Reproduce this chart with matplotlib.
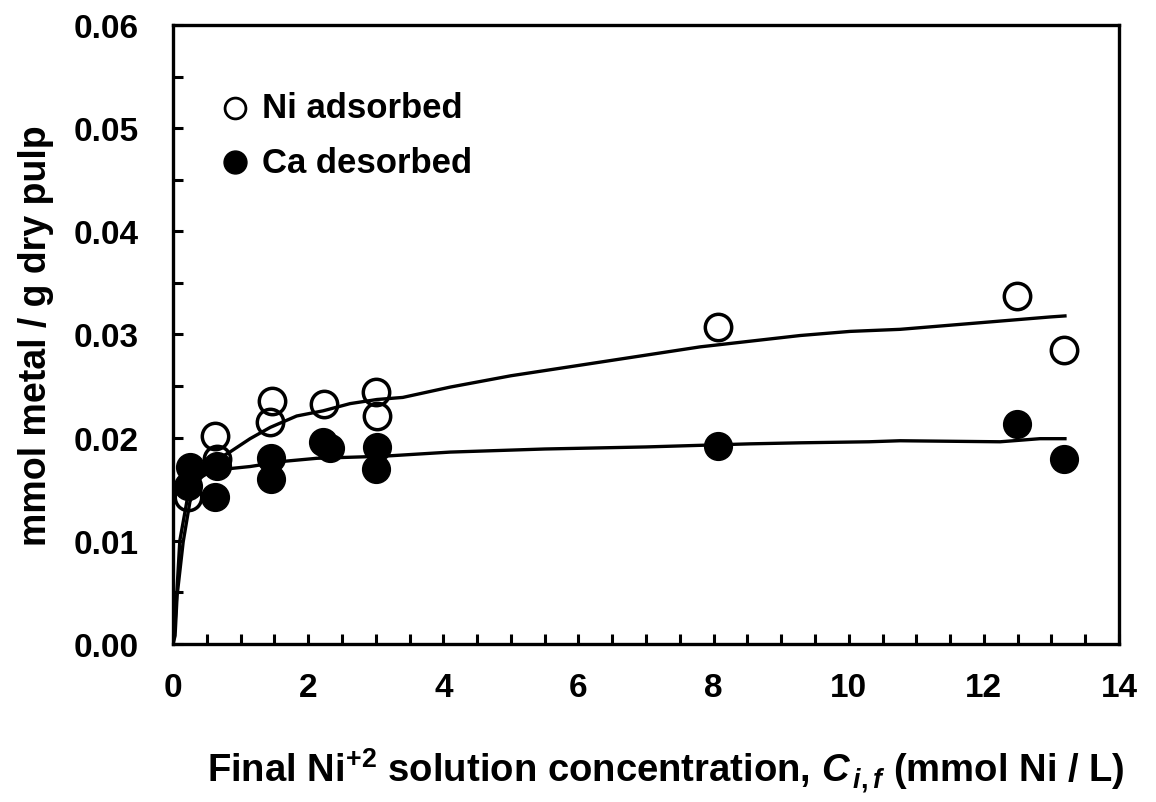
import matplotlib
matplotlib.use("Agg")
from matplotlib import pyplot as plt
from matplotlib.ticker import MultipleLocator, FormatStrFormatter

plt.rcParams['font.family'] = ['Liberation Sans', 'DejaVu Sans']
plt.rcParams['font.weight'] = 'bold'
plt.rcParams['mathtext.fontset'] = 'custom'
plt.rcParams['mathtext.rm'] = 'Liberation Sans:bold'
plt.rcParams['mathtext.it'] = 'Liberation Sans:italic:bold'
plt.rcParams['mathtext.bf'] = 'Liberation Sans:bold'

# Measured points
ni_conc = [0.22, 0.62, 0.65, 1.47, 1.44, 2.24, 3.00, 3.02, 8.07, 12.49, 13.18]
ni_ads = [0.0142, 0.0202, 0.0179, 0.0236, 0.0215, 0.0233, 0.0244, 0.0221, 0.0307, 0.0337, 0.0285]

ca_conc = [0.25, 0.22, 0.62, 0.65, 1.45, 1.45, 2.22, 2.32, 3.02, 3.00, 8.07, 12.49, 13.19]
ca_des = [0.0172, 0.0153, 0.0142, 0.0173, 0.0180, 0.0160, 0.0196, 0.0190, 0.0191, 0.0170, 0.0192, 0.0213, 0.0179]

# Model curves
ni_fit_x = [0.0, 0.03, 0.06, 0.15, 0.25, 0.4, 0.6, 0.84, 1.14, 1.44, 1.83, 2.22, 2.62, 3.02,
            3.4, 4.1, 5.0, 6.0, 7.0, 7.8, 9.28, 10.02, 10.76, 12.24, 12.98, 13.2]
ni_fit_y = [0.0, 0.0008, 0.0047, 0.0099, 0.0138, 0.0160, 0.0177, 0.0186, 0.0199, 0.0210, 0.0221,
            0.0226, 0.0233, 0.0237, 0.0239, 0.0249, 0.0260, 0.0270, 0.0280, 0.0288, 0.0299,
            0.0303, 0.0305, 0.0313, 0.0317, 0.0318]

ca_fit_x = [0.0, 0.03, 0.1, 0.25, 0.5, 0.84, 1.14, 1.63, 2.13, 2.62, 3.11, 4.1, 5.5, 7.0,
            8.54, 9.28, 10.3, 10.76, 12.24, 12.83, 13.2]
ca_fit_y = [0.0, 0.002, 0.010, 0.0155, 0.0165, 0.0170, 0.0172, 0.0177, 0.0180, 0.0181, 0.0182,
            0.0186, 0.0189, 0.0191, 0.0194, 0.0195, 0.0196, 0.0197, 0.0196, 0.0199, 0.0199]

fig = plt.figure(figsize=(11.56, 8.03), dpi=100)
ax = fig.add_axes([0.1497, 0.1968, 0.8183, 0.7708])

ax.plot(ni_fit_x, ni_fit_y, color='black', linewidth=2.4, zorder=2)
ax.plot(ca_fit_x, ca_fit_y, color='black', linewidth=2.4, zorder=2)
ax.plot(ni_conc, ni_ads, linestyle='none', marker='o', markersize=19, markerfacecolor='none',
        markeredgecolor='black', markeredgewidth=2.5, zorder=3)
ax.plot(ca_conc, ca_des, linestyle='none', marker='o', markersize=20, markerfacecolor='black',
        markeredgecolor='black', zorder=3)

ax.set_xlim(0, 14)
ax.set_ylim(0, 0.06)
ax.xaxis.set_major_locator(MultipleLocator(2))
ax.xaxis.set_minor_locator(MultipleLocator(0.5))
ax.yaxis.set_major_locator(MultipleLocator(0.01))
ax.yaxis.set_minor_locator(MultipleLocator(0.005))
ax.yaxis.set_major_formatter(FormatStrFormatter('%.2f'))

for s in ax.spines.values():
    s.set_linewidth(2.4)
ax.tick_params(which='both', direction='in', top=False, right=False, width=2.2, length=7,
               labelsize=24)
ax.tick_params(axis='x', which='major', pad=20)
ax.tick_params(axis='y', which='major', pad=25)
for lab in ax.get_xticklabels() + ax.get_yticklabels():
    lab.set_fontweight('bold')

ax.set_xlabel('Final Ni$^{+2}$ solution concentration, $C_{\\,i,f}$ (mmol Ni / L)',
              fontsize=27.5, fontweight='bold', va='center')
ax.xaxis.set_label_coords(0.521, -0.203)
ax.set_ylabel('mmol metal / g dry pulp', fontsize=27, fontweight='bold', labelpad=14)

# Legend
ax.plot([0.92], [0.0520], linestyle='none', marker='o', markersize=15, markerfacecolor='none',
        markeredgecolor='black', markeredgewidth=2)
ax.plot([0.92], [0.0467], linestyle='none', marker='o', markersize=16.5, markerfacecolor='black',
        markeredgecolor='black')
ax.text(1.31, 0.0520, 'Ni adsorbed', fontsize=25, fontweight='bold', va='center')
ax.text(1.31, 0.0467, 'Ca desorbed', fontsize=25, fontweight='bold', va='center')

fig.savefig('out.png', dpi=100)
